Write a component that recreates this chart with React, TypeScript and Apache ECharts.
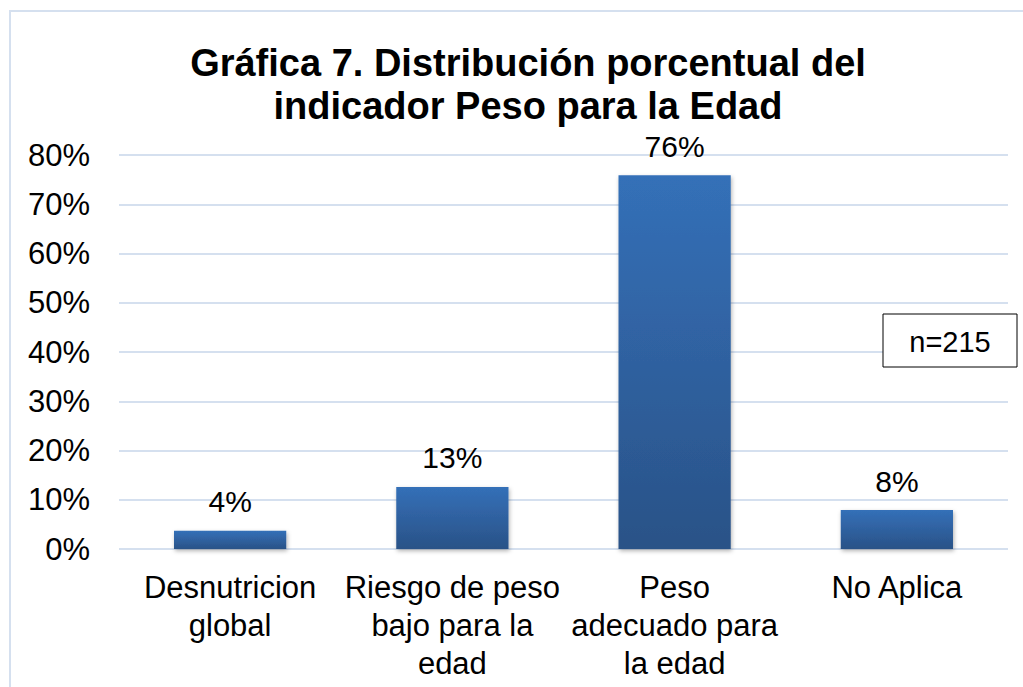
import React, { useEffect, useRef } from "react";
import * as echarts from "echarts";

const categories = ["Desnutricion\nglobal", "Riesgo de peso\nbajo para la\nedad", "Peso\nadecuado para\nla edad", "No Aplica"];
const values = [3.7, 12.6, 75.9, 7.9];
const yTicks = { min: 0, max: 80, interval: 10 };
const titleText = "Gráfica 7. Distribución porcentual del\nindicador Peso para la Edad";
const noteText = "n=215";

export default function App() {
  const ref = useRef<HTMLDivElement>(null);
  useEffect(() => {
    const chart = echarts.init(ref.current!, null, { renderer: "svg" });
    const font = "'Liberation Sans', Arial, sans-serif";
    chart.setOption({
      animation: false,
      backgroundColor: "#ffffff",
      title: {
        text: titleText,
        left: 523,
        top: 36,
        textAlign: "center",
        textStyle: { fontFamily: font, fontSize: 38, fontWeight: "bold", color: "#000", lineHeight: 43 },
      },
      grid: { left: 119, right: 15, top: 155, bottom: 138 },
      xAxis: {
        type: "category",
        data: categories,
        axisLine: { show: false },
        axisTick: { show: false },
        axisLabel: { fontFamily: font, fontSize: 31, color: "#000", lineHeight: 38, margin: 19, interval: 0 },
      },
      yAxis: {
        type: "value",
        min: yTicks.min,
        max: yTicks.max,
        interval: yTicks.interval,
        axisLine: { show: false },
        axisTick: { show: false },
        splitLine: { lineStyle: { color: "#d5e0ef", width: 2 } },
        axisLabel: { fontFamily: font, fontSize: 31, color: "#000", margin: 29, formatter: "{value}%" },
      },
      series: [
        {
          type: "bar",
          data: values,
          barWidth: "50.5%",
          itemStyle: {
            color: new echarts.graphic.LinearGradient(0, 0, 0, 1, [
              { offset: 0, color: "#3470b8" },
              { offset: 1, color: "#2a5287" },
            ]),
            shadowColor: "rgba(0,0,0,0.3)",
            shadowBlur: 4,
            shadowOffsetX: 1,
            shadowOffsetY: 2,
          },
          label: {
            show: true,
            position: "top",
            distance: 14,
            fontFamily: font,
            fontSize: 30,
            color: "#000",
            formatter: (p: any) => Math.round(p.value) + "%",
          },
        },
      ],
      graphic: [
        {
          type: "rect",
          shape: { x: 10, y: 11, width: 1100, height: 1000 },
          style: { fill: "none", stroke: "#d5e0ef", lineWidth: 2 },
          silent: true,
        },
        {
          type: "rect",
          shape: { x: 883, y: 314, width: 134, height: 53 },
          style: { fill: "#fff", stroke: "#000", lineWidth: 1 },
          z: 10,
        },
        {
          type: "text",
          x: 950,
          y: 342,
          style: { text: noteText, font: `29px ${font}`, fill: "#000", align: "center", verticalAlign: "middle" },
          z: 11,
        },
      ],
    });
    return () => chart.dispose();
  }, []);
  return <div ref={ref} style={{ position: "absolute", left: 0, top: 0, width: 1023, height: 687 }} />;
}
